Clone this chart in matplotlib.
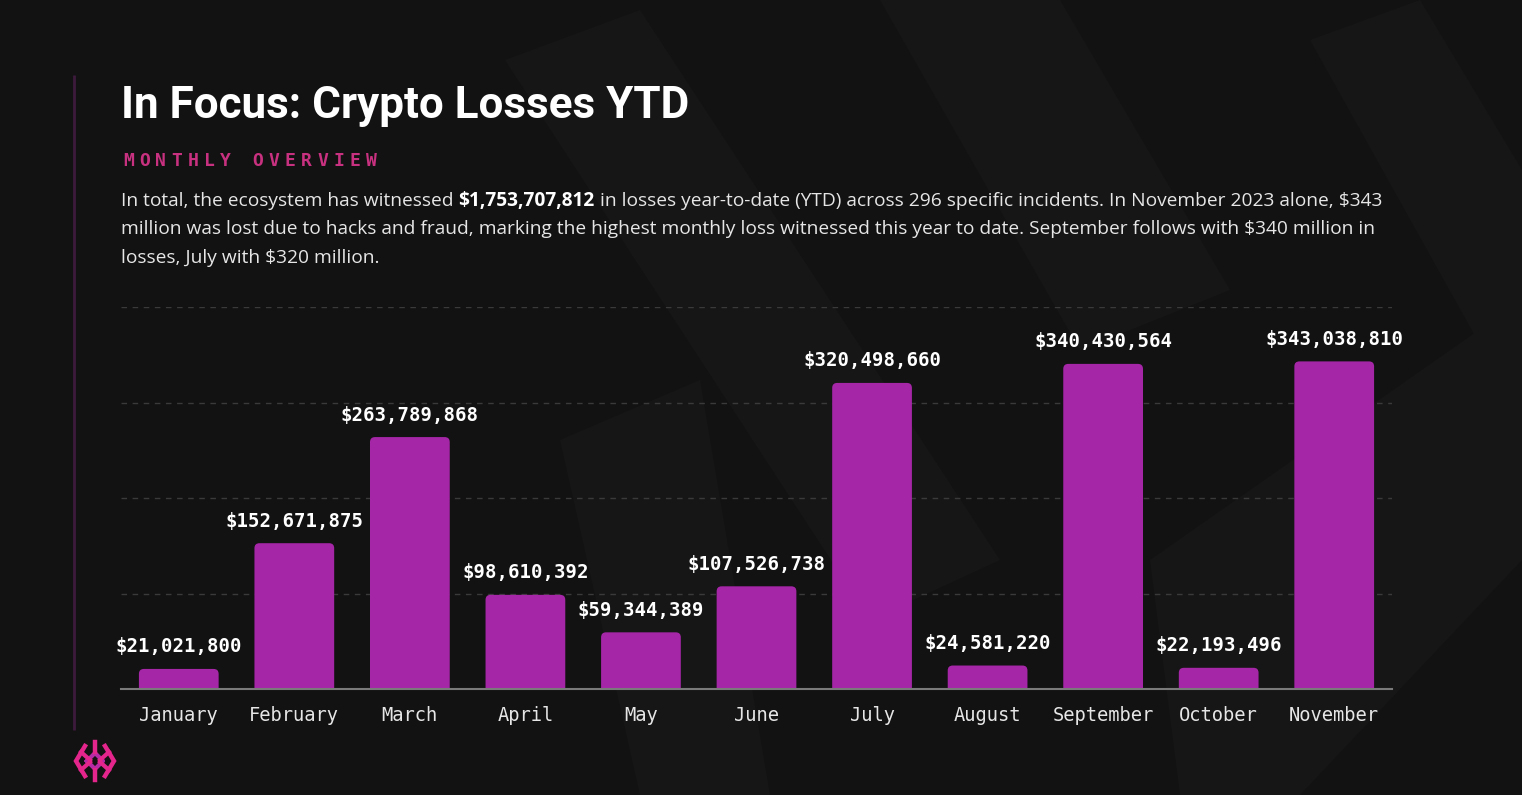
import numpy as np
import matplotlib
matplotlib.use("Agg")
import matplotlib.pyplot as plt
from matplotlib.patches import FancyBboxPatch, Polygon

months = ["January", "February", "March", "April", "May", "June",
          "July", "August", "September", "October", "November"]
losses = [21021800, 152671875, 263789868, 98610392, 59344389, 107526738,
          320498660, 24581220, 340430564, 22193496, 343038810]
grid_vals = [100e6, 200e6, 300e6, 400e6]

title = "In Focus: Crypto Losses YTD"
kicker = "MONTHLY OVERVIEW"
body_pre = "In total, the ecosystem has witnessed "
body_bold = "$1,753,707,812"
body_post = " in losses year-to-date (YTD) across 296 specific incidents. In November 2023 alone, $343"
body_lines = ["million was lost due to hacks and fraud, marking the highest monthly loss witnessed this year to date. September follows with $340 million in",
              "losses, July with $320 million."]

BG = "#121212"
BAR = "#A626A8"
PINK = "#C7317F"
W, H = 1522, 795

fig = plt.figure(figsize=(W / 100, H / 100), dpi=100)
fig.patch.set_facecolor(BG)

# background layer in pixel coordinates
bg = fig.add_axes([0, 0, 1, 1])
bg.set_xlim(0, W)
bg.set_ylim(H, 0)
bg.axis("off")
bg.set_zorder(-1)

shapes = [
    [(505, 60), (640, 10), (1000, 560), (870, 620)],
    [(880, 0), (1060, 0), (1230, 290), (1080, 350)],
    [(1310, 40), (1420, 0), (1522, 170), (1522, 420)],
    [(560, 440), (700, 380), (770, 795), (640, 795)],
    [(1150, 560), (1522, 300), (1522, 560), (1300, 795), (1180, 795)],
]
for s in shapes:
    bg.add_patch(Polygon(s, closed=True, facecolor="#161616", edgecolor="none"))

# left accent line
bg.plot([74, 74], [75, 730], color="#3d1a3c", lw=2, solid_capstyle="butt")

# logo
cx, cy = 95, 761
pk = "#E3258C"
bg.plot([cx - 8, cx, cx + 8, cx, cx - 8], [cy, cy - 8, cy, cy + 8, cy], color="#B52AA5", lw=3)
bg.plot([cx - 10, cx - 19, cx - 10], [cy - 15, cy, cy + 15], color=pk, lw=3.2, solid_joinstyle="miter")
bg.plot([cx + 10, cx + 19, cx + 10], [cy - 15, cy, cy + 15], color=pk, lw=3.2, solid_joinstyle="miter")
bg.plot([cx, cx], [cy - 19, cy - 9], color=pk, lw=3.2)
bg.plot([cx, cx], [cy + 9, cy + 19], color=pk, lw=3.2)
bg.plot([cx - 14, cx - 5], [cy - 9, cy - 1], color=pk, lw=3)
bg.plot([cx + 14, cx + 5], [cy - 9, cy - 1], color=pk, lw=3)
bg.plot([cx - 14, cx - 5], [cy + 9, cy + 1], color=pk, lw=3)
bg.plot([cx + 14, cx + 5], [cy + 9, cy + 1], color=pk, lw=3)

# header texts
bg.text(121, 118, title, fontsize=31.7, fontweight="bold", color="white",
        family="Roboto", va="baseline")
for i, ch in enumerate(kicker):
    bg.text(123 + i * 16.2, 166, ch, fontsize=13, fontweight="bold", color=PINK,
            family="DejaVu Sans Mono", va="baseline")

renderer = fig.canvas.get_renderer()
body_kw = dict(fontsize=13.8, color="#E6E6E6", family="Open Sans", va="baseline")
y0 = 206
t1 = bg.text(121, y0, body_pre, **body_kw)
x = 121 + t1.get_window_extent(renderer).width
t2 = bg.text(x, y0, body_bold, **{**body_kw, "fontweight": "bold", "color": "white"})
x += t2.get_window_extent(renderer).width
bg.text(x, y0, body_post, **body_kw)
for k, line in enumerate(body_lines):
    bg.text(121, y0 + 28.5 * (k + 1), line, **body_kw)

# chart
ax = fig.add_axes([121 / W, 1 - 689 / H, (1392 - 121) / W, (689 - 307) / H])
ax.set_facecolor("none")
ax.set_xlim(-0.5, len(months) - 0.5)
ax.set_ylim(0, 400e6)

xs = np.arange(len(months))
bw = 0.69
# data units per pixel, to keep corners round
px_x = (len(months)) / (1392 - 121)
px_y = 400e6 / (689 - 307)
r = 5 * px_x
for xi, v in zip(xs, losses):
    p = FancyBboxPatch((xi - bw / 2, -10 * px_y), bw, v + 10 * px_y,
                       boxstyle=f"round,pad=0,rounding_size={r}",
                       mutation_aspect=px_y / px_x,
                       facecolor=BAR, edgecolor="none", zorder=3)
    ax.add_patch(p)
    ax.annotate(f"${v:,.0f}", (xi, v), xytext=(0, 9), textcoords="offset points",
                ha="center", va="bottom", fontsize=13.7, fontweight="bold",
                color="white", family="DejaVu Sans Mono", zorder=4)

for g in grid_vals:
    ax.axhline(g, color="#3a3a3a", lw=1, ls=(0, (4, 4)), zorder=1)

for s in ["top", "right", "left"]:
    ax.spines[s].set_visible(False)
ax.spines["bottom"].set_color("#7a7a7a")
ax.spines["bottom"].set_linewidth(1.5)
ax.spines["bottom"].set_zorder(5)
ax.set_yticks([])
ax.set_xticks(xs)
ax.set_xticklabels(months, family="DejaVu Sans Mono", fontsize=13.5, color="#E6E6E6")
ax.tick_params(axis="x", length=0, pad=12)

fig.savefig("out.png", dpi=100, facecolor=BG)
